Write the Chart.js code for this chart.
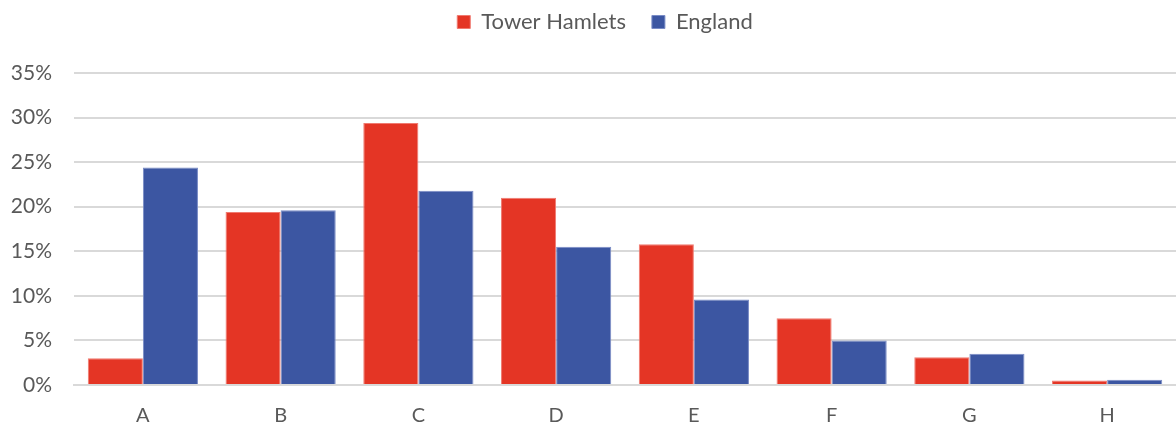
<!DOCTYPE html>
<html>
<head>
<meta charset="utf-8">
<script src="https://cdn.jsdelivr.net/npm/chart.js@4.4.1/dist/chart.umd.min.js"></script>
<style>
  html, body { margin: 0; padding: 0; background: #fff; }
  #wrap { width: 1176px; height: 428px; position: relative; }
</style>
</head>
<body>
<div id="wrap"><canvas id="c"></canvas></div>
<script>
const categories = ['A', 'B', 'C', 'D', 'E', 'F', 'G', 'H'];
const towerHamlets = [3.0, 19.4, 29.4, 21.0, 15.8, 7.5, 3.1, 0.5];
const england = [24.4, 19.6, 21.8, 15.5, 9.6, 5.0, 3.5, 0.6];
const seriesNames = ['Tower Hamlets', 'England'];
const yTicks = [0, 5, 10, 15, 20, 25, 30, 35];

const FONT = 'Lato, "Open Sans", sans-serif';
const TEXT = '#595959';

const legendTweak = {
  id: 'legendTweak',
  beforeInit(chart) {
    const lg = chart.legend;
    const origFit = lg.fit;
    lg.fit = function () {
      origFit.bind(lg)();
      this.height = 87;
    };
    const origDraw = lg.draw;
    lg.draw = function () {
      const ctx = chart.ctx;
      ctx.save();
      ctx.translate(17, -1);
      origDraw.apply(lg, arguments);
      ctx.restore();
    };
  }
};

new Chart(document.getElementById('c'), {
  type: 'bar',
  data: {
    labels: categories,
    datasets: [
      { label: seriesNames[0], data: towerHamlets, backgroundColor: '#E43525', borderColor: '#F07A70', borderWidth: 1 },
      { label: seriesNames[1], data: england, backgroundColor: '#3C56A2', borderColor: '#7A8CC6', borderWidth: 1 }
    ]
  },
  options: {
    responsive: true,
    maintainAspectRatio: false,
    animation: false,
    datasets: { bar: { categoryPercentage: 0.8, barPercentage: 1.0 } },
    layout: { padding: { left: 0, right: 0, top: -14, bottom: 0 } },
    plugins: {
      legend: {
        position: 'top',
        labels: {
          boxWidth: 13, boxHeight: 13, padding: 26,
          color: TEXT, font: { family: FONT, size: 22 }
        }
      },
      tooltip: { enabled: false }
    },
    scales: {
      x: {
        grid: { display: false, drawTicks: false },
        border: { display: true, color: '#D9D9D9', width: 2 },
        afterFit: s => { s.height = 43; },
        ticks: { color: TEXT, font: { family: FONT, size: 20 }, padding: 19 }
      },
      y: {
        min: 0, max: 35,
        afterBuildTicks: s => { s.ticks = yTicks.map(v => ({ value: v })); },
        afterFit: s => { s.width = 74; },
        grid: { color: '#D9D9D9', lineWidth: 2, drawTicks: false },
        border: { display: false },
        ticks: { color: TEXT, font: { family: FONT, size: 21 }, padding: 22, callback: v => v + '%' }
      }
    }
  },
  plugins: [legendTweak]
});
</script>
</body>
</html>
